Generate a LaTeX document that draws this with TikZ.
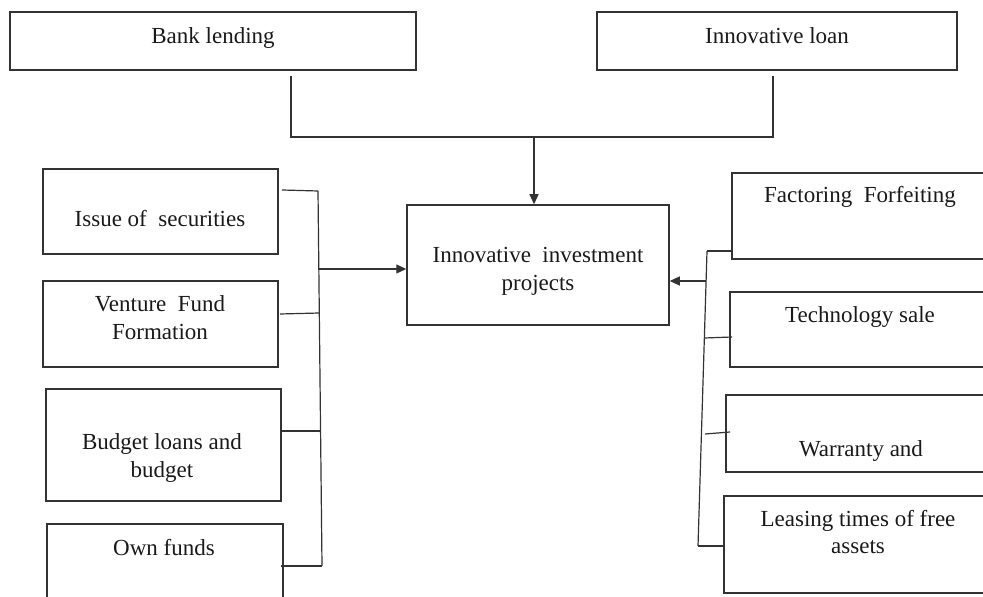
\documentclass[tikz,border=0pt]{standalone}
\usepackage{fontspec}
\setmainfont{Liberation Serif}
\usetikzlibrary{arrows.meta,fit}
\begin{document}
\begin{tikzpicture}[x=0.5pt,y=-0.5pt,
  box/.style={draw=black!80,line width=0.75pt,inner sep=0pt},
  txt/.style={font=\fontsize{11.5}{14}\selectfont,inner sep=0pt,anchor=base,text=black!90},
  ln/.style={draw=black!80,line width=0.6pt},
  arr/.style={ln,-{Triangle[length=5pt,width=4.5pt]}}]
\useasboundingbox (0,0) rectangle (983,597);
\clip (0,0) rectangle (983,597);
% boxes
\node[box,fit={(10,12)(416,70)}] (bank) {};
\node[box,fit={(597,12)(957,70)}] (loan) {};
\node[box,fit={(407,205)(669,325)}] (proj) {};
\node[box,fit={(43,169)(278,254)}] (iss) {};
\node[box,fit={(43,281)(278,367)}] (ven) {};
\node[box,fit={(46,389)(281,501)}] (bud) {};
\node[box,fit={(47,524)(283,620)}] (own) {};
\node[box,fit={(732,173)(1000,259)}] (fac) {};
\node[box,fit={(730,292)(1000,367)}] (tech) {};
\node[box,fit={(726,395)(1000,472)}] (war) {};
\node[box,fit={(724,496)(1000,593)}] (lea) {};
% texts
\node[txt] (tbank) at (213,44) {Bank lending};
\node[txt] (tloan) at (777,44) {Innovative loan};
\node[txt] (tproj1) at (538,263) {Innovative~ investment};
\node[txt] (tproj2) at (538,291) {projects};
\node[txt] (tiss) at (160,227) {Issue of~ securities};
\node[txt] (tven1) at (160,312) {Venture~ Fund};
\node[txt] (tven2) at (160,340) {Formation};
\node[txt] (tbud1) at (162,450) {Budget loans and};
\node[txt] (tbud2) at (162,478) {budget};
\node[txt] (town) at (164,555) {Own funds};
\node[txt] (tfac) at (860,203) {Factoring~ Forfeiting};
\node[txt] (ttech) at (860,323) {Technology sale};
\node[txt] (twar) at (861,457) {Warranty and};
\node[txt] (tlea1) at (858,526) {Leasing times of free};
\node[txt] (tlea2) at (858,553) {assets};
% top connector
\coordinate (bankout) at (291,76);
\coordinate (loanout) at (773,76);
\coordinate (j1) at (291,137);
\coordinate (j2) at (773,137);
\coordinate (jm) at (534,137);
\draw[ln] (bankout) -- (j1) -- (j2) -- (loanout);
\draw[arr] (jm) -- (jm |- proj.north);
% left bus
\coordinate (lb1) at (318,191);
\coordinate (lbA) at (318.8,269);
\coordinate (lb2) at (319.3,313);
\coordinate (lb3) at (320.6,431);
\coordinate (lb4) at (322,566);
\coordinate (is) at (282,190);
\coordinate (vs) at (280,314);
\coordinate (bs) at (282,431);
\coordinate (os) at (281,566);
\draw[ln] (lb1) -- (lb4);
\draw[ln] (is) -- (lb1);
\draw[ln] (vs) -- (lb2);
\draw[ln] (bs) -- (lb3);
\draw[ln] (os) -- (lb4);
\draw[arr] (lbA) -- (lbA -| proj.west);
% right bus
\coordinate (rb1) at (707,251);
\coordinate (rbA) at (706.1,281);
\coordinate (rb2) at (704.3,338);
\coordinate (rb3) at (705,434);
\coordinate (rb4) at (698,546);
\coordinate (fs) at (732,251);
\coordinate (ts) at (732,337);
\coordinate (ws) at (730,432);
\coordinate (ls) at (724,546);
\draw[ln] (rb1) -- (rb4);
\draw[ln] (rb1) -- (fs);
\draw[ln] (rb2) -- (ts);
\draw[ln] (rb3) -- (ws);
\draw[ln] (rb4) -- (ls);
\draw[arr] (rbA) -- (rbA -| proj.east);
\end{tikzpicture}
\end{document}
